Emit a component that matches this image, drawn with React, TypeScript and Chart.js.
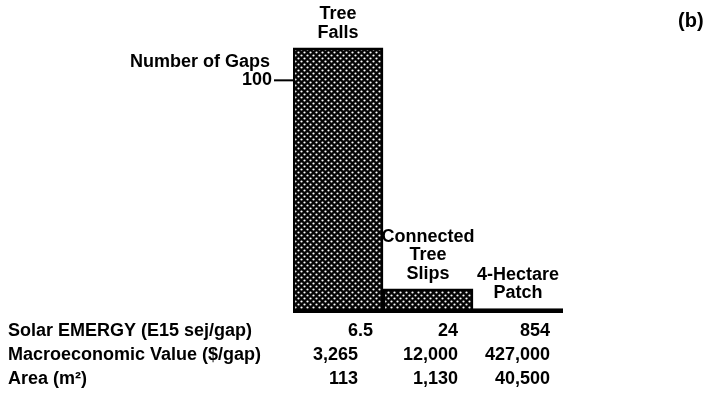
import React, { useEffect, useRef } from "react";
import { Chart, registerables } from "chart.js";

Chart.register(...registerables);

const categories: string[][] = [["Tree", "Falls"], ["Connected", "Tree", "Slips"], ["4-Hectare", "Patch"]];
const numberOfGaps: number[] = [114, 10, 1.5];
const yTickValues: number[] = [100];
const yAxisTitle = "Number of Gaps";
const rowLabels: string[] = ["Solar EMERGY (E15 sej/gap)", "Macroeconomic Value ($/gap)", "Area (m²)"];
const solarEmergy: string[] = ["6.5", "24", "854"];
const macroValue: string[] = ["3,265", "12,000", "427,000"];
const areaM2: string[] = ["113", "1,130", "40,500"];
const panelLabel = "(b)";

const FONT = "bold 18px 'Liberation Sans', Arial, sans-serif";

function makePattern(ctx: CanvasRenderingContext2D): CanvasPattern | string {
  const c = document.createElement("canvas");
  c.width = 6;
  c.height = 6;
  const p = c.getContext("2d");
  if (!p) return "#111";
  p.fillStyle = "#050505";
  p.fillRect(0, 0, 6, 6);
  p.fillStyle = "#ffffff";
  p.beginPath();
  p.arc(1.5, 1.5, 1.1, 0, Math.PI * 2);
  p.fill();
  p.beginPath();
  p.arc(4.5, 4.5, 1.1, 0, Math.PI * 2);
  p.fill();
  return ctx.createPattern(c, "repeat") || "#111";
}

const overlay = {
  id: "overlay",
  afterDraw(chart: any) {
    const { ctx, chartArea, scales } = chart;
    const xs = scales.x;
    const ys = scales.y;
    const y0 = ys.getPixelForValue(0);
    ctx.save();
    ctx.fillStyle = "#000";
    ctx.strokeStyle = "#000";
    // thick baseline
    ctx.fillRect(chartArea.left, y0 - 3, chartArea.right - chartArea.left, 4);
    // y ticks
    ctx.font = FONT;
    ctx.textBaseline = "middle";
    ctx.textAlign = "right";
    yTickValues.forEach((v) => {
      const y = ys.getPixelForValue(v);
      ctx.lineWidth = 2;
      ctx.beginPath();
      ctx.moveTo(chartArea.left - 19, y);
      ctx.lineTo(chartArea.left, y);
      ctx.stroke();
      ctx.fillText(String(v), chartArea.left - 21, y);
      ctx.fillText(yAxisTitle, chartArea.left - 23, y - 18);
    });
    // category labels above bars
    ctx.textAlign = "center";
    categories.forEach((lines, i) => {
      const x = xs.getPixelForValue(i);
      const top = ys.getPixelForValue(numberOfGaps[i]);
      const n = lines.length;
      lines.forEach((t, k) => {
        ctx.fillText(t, x, top - 15 - (n - 1 - k) * 18.5);
      });
    });
    // table
    const rows = [solarEmergy, macroValue, areaM2];
    const colRight = [358, 458, 550];
    rows.forEach((vals, r) => {
      const y = y0 + 19 + r * 24;
      ctx.textAlign = "left";
      ctx.fillText(rowLabels[r], 8, y);
      vals.forEach((v, c) => {
        const dot = v.indexOf(".");
        if (dot >= 0) {
          const intPart = v.slice(0, dot);
          const w = ctx.measureText(intPart).width;
          ctx.textAlign = "left";
          ctx.fillText(v, colRight[c] - w, y);
        } else {
          ctx.textAlign = "right";
          ctx.fillText(v, colRight[c], y);
        }
      });
    });
    // panel label
    ctx.textAlign = "left";
    ctx.font = "bold 20px 'Liberation Sans', Arial, sans-serif";
    ctx.fillText(panelLabel, 678, 21);
    ctx.restore();
  },
};

export default function App() {
  const ref = useRef<HTMLCanvasElement | null>(null);
  useEffect(() => {
    const canvas = ref.current;
    if (!canvas) return;
    const ctx = canvas.getContext("2d");
    if (!ctx) return;
    const pattern = makePattern(ctx);
    const chart = new Chart(canvas, {
      type: "bar",
      data: {
        labels: categories.map((c) => c.join(" ")),
        datasets: [
          {
            data: numberOfGaps,
            backgroundColor: pattern as any,
            borderColor: "#000",
            borderWidth: 2.5,
            borderSkipped: false,
            barPercentage: 1,
            categoryPercentage: 1,
          },
        ],
      },
      options: {
        animation: false,
        responsive: false,
        maintainAspectRatio: false,
        layout: { padding: { left: 293, right: 152, top: 34, bottom: 88 } },
        plugins: { legend: { display: false }, tooltip: { enabled: false } },
        scales: {
          x: { display: false },
          y: { display: false, min: 0, max: 120 },
        },
      },
      plugins: [overlay],
    });
    return () => chart.destroy();
  }, []);
  return (
    <div style={{ position: "fixed", left: 0, top: 0, width: 715, height: 400, background: "#fff" }}>
      <canvas ref={ref} width={715} height={400} style={{ width: 715, height: 400 }} />
    </div>
  );
}
